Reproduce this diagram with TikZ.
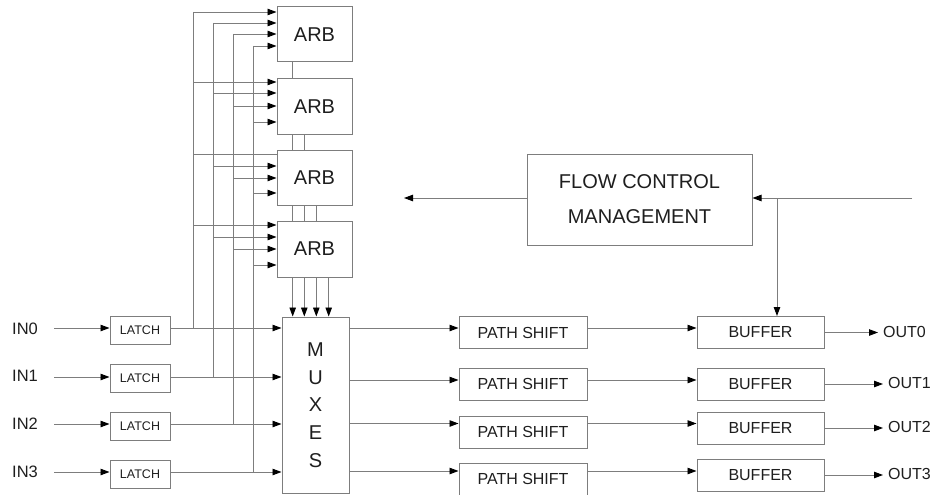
\documentclass[tikz,border=0pt]{standalone}
\usepackage{fontspec}
\setmainfont{Liberation Sans}
\usetikzlibrary{arrows.meta}
\definecolor{ln}{RGB}{125,125,125}
\definecolor{tx}{RGB}{30,30,30}
\begin{document}
\begin{tikzpicture}[x=1pt,y=-1pt,
  box/.style={draw=ln, line width=1pt, inner sep=0pt, text=tx},
  arr/.style={-{Triangle[length=9pt,width=6.5pt,color=black]}},
  noarr/.style={},
  wire/.style={draw=ln, line width=0.9pt},
  lab/.style={text=tx, inner sep=0pt, anchor=west},
  big/.style={font=\fontsize{20}{24}\selectfont},
  mid/.style={font=\fontsize{16}{19}\selectfont},
  small/.style={font=\fontsize{12.5}{15}\selectfont}]
\useasboundingbox (0,0) rectangle (932,495);

% ARB boxes
\node[box, big, minimum width=75pt, minimum height=55pt] (arb1) at (314.5,34.5) {ARB};
\node[box, big, minimum width=75pt, minimum height=55pt] (arb2) at (314.5,106.5) {ARB};
\node[box, big, minimum width=75pt, minimum height=55pt] (arb3) at (314.5,177.5) {ARB};
\node[box, big, minimum width=75pt, minimum height=56pt] (arb4) at (314.5,249) {ARB};

% MUX
\node[box, align=center, font=\fontsize{20}{27.7}\selectfont, minimum width=67pt, minimum height=176pt] (mux) at (315.5,405) {M\\U\\X\\E\\S};

% x positions between ARBs
\coordinate (xa) at (292.7,0);
\coordinate (xb) at (304.3,0);
\coordinate (xc) at (316.3,0);
\coordinate (xd) at (328.7,0);
\draw[wire] (arb1.south -| xa) -- (arb2.north -| xa);
\draw[wire] (arb2.south -| xa) -- (arb3.north -| xa);
\draw[wire] (arb2.south -| xb) -- (arb3.north -| xb);
\draw[wire] (arb3.south -| xa) -- (arb4.north -| xa);
\draw[wire] (arb3.south -| xb) -- (arb4.north -| xb);
\draw[wire] (arb3.south -| xc) -- (arb4.north -| xc);
\foreach \c in {xa,xb,xc,xd}
  \draw[wire,arr] (arb4.south -| \c) -- (mux.north -| \c);

% input rows
\coordinate (ri0) at (0,328);
\coordinate (ri1) at (0,377);
\coordinate (ri2) at (0,424);
\coordinate (ri3) at (0,472);
% output rows
\coordinate (ro0) at (0,328);
\coordinate (ro1) at (0,380);
\coordinate (ro2) at (0,423.5);
\coordinate (ro3) at (0,471);

% inputs and latches
\foreach \i/\ly in {0/330.5,1/378,2/426,3/474}{
  \node[lab, font=\fontsize{16.5}{19}\selectfont] (in\i) at (12,\ly-2) {IN\i};
  \node[box, small, minimum width=60pt, minimum height=28pt] (latch\i) at (140,\ly) {LATCH};
  \coordinate (s\i) at (54,0);
  \draw[wire,arr] (s\i |- ri\i) -- (latch\i.west |- ri\i);
  \draw[wire,arr] (latch\i.east |- ri\i) -- (mux.west |- ri\i);
}

% bus lines
\coordinate (b0) at (193,12);
\coordinate (b1) at (213,23);
\coordinate (b2) at (233,34);
\coordinate (b3) at (253,46);
\draw[wire] (b0) -- (b0 |- ri0);
\draw[wire] (b1) -- (b1 |- ri1);
\draw[wire] (b2) -- (b2 |- ri2);
\draw[wire] (b3) -- (b3 |- ri3);

% arbiter request arrows
\foreach \n/\bx/\by/\a in {
  arb1/193/12/arr, arb1/213/23/arr, arb1/233/34/arr, arb1/253/46/arr,
  arb2/193/82/arr, arb2/213/93/arr, arb2/233/106/arr, arb2/253/122/arr,
  arb3/193/154/noarr, arb3/213/166/arr, arb3/233/178/arr, arb3/253/193/arr,
  arb4/193/225/arr, arb4/213/237/arr, arb4/233/249/arr, arb4/253/265/arr}{
  \coordinate (t) at (\bx,\by);
  \draw[wire,\a] (t) -- (\n.west |- t);
}

% path shift and buffers
\foreach \i/\py/\by/\ox in {0/332.5/332.5/883, 1/384/384/888, 2/432/428/888, 3/479/475/888}{
  \node[box, mid, minimum width=128pt, minimum height=32pt] (ps\i) at (523,\py) {PATH SHIFT};
  \node[box, mid, minimum width=127pt, minimum height=32pt] (buf\i) at (760.5,\by) {BUFFER};
  \node[lab, mid] (out\i) at (\ox,\by-1) {OUT\i};
  \draw[wire,arr] (mux.east |- ro\i) -- (ps\i.west |- ro\i);
  \draw[wire,arr] (ps\i.east |- ro\i) -- (buf\i.west |- ro\i);
  \coordinate (oe\i) at (\ox-5,\by);
  \draw[wire,arr] (buf\i.east) -- (oe\i);
}

% flow control
\node[box, align=center, font=\fontsize{20}{35}\selectfont, minimum width=225pt, minimum height=91pt] (flow) at (639.5,199.5) {FLOW CONTROL\\MANAGEMENT};
\coordinate (fin) at (912,198);
\coordinate (ftap) at (777,198);
\coordinate (fout) at (404,198);
\draw[wire,arr] (fin) -- (flow.east |- fin);
\draw[wire,arr] (ftap) -- (buf0.north -| ftap);
\draw[wire,arr] (flow.west |- fout) -- (fout);
\end{tikzpicture}
\end{document}
